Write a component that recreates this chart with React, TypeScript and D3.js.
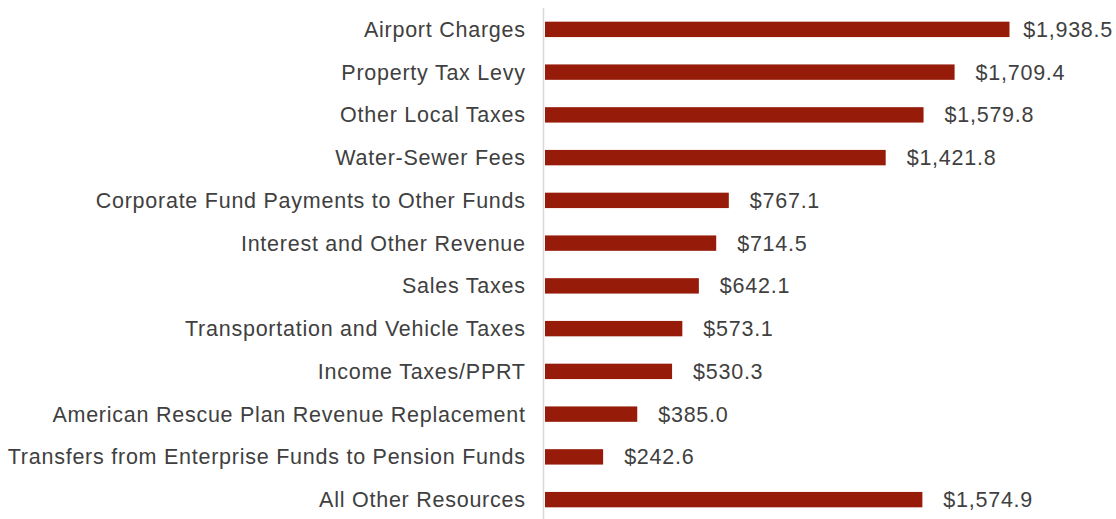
import React from "react";
import * as d3 from "d3";

const categories = [
  "Airport Charges",
  "Property Tax Levy",
  "Other Local Taxes",
  "Water-Sewer Fees",
  "Corporate Fund Payments to Other Funds",
  "Interest and Other Revenue",
  "Sales Taxes",
  "Transportation and Vehicle Taxes",
  "Income Taxes/PPRT",
  "American Rescue Plan Revenue Replacement",
  "Transfers from Enterprise Funds to Pension Funds",
  "All Other Resources",
];

const values = [1938.5, 1709.4, 1579.8, 1421.8, 767.1, 714.5, 642.1, 573.1, 530.3, 385.0, 242.6, 1574.9];

const W = 1116;
const H = 519;
const x0 = 545;
const FS = 21.5;
const LS = 0.75;
const FONT = "'Liberation Sans', Arial, sans-serif";

function measure(s: string): number {
  const c = document.createElement("canvas").getContext("2d");
  if (!c) return s.length * 11;
  c.font = `${FS}px ${FONT}`;
  return c.measureText(s).width + LS * s.length;
}

export default function App() {
  const x = d3.scaleLinear().domain([0, 1938.5]).range([x0, 1009.5]);
  const y = d3.scaleBand<string>().domain(categories).range([8, 521]).paddingInner(0.64).paddingOuter(0.32);
  const fmt = (v: number) => "$" + d3.format(",.1f")(v);
  return (
    <svg
      width={W}
      height={H}
      style={{ position: "absolute", left: 0, top: 0, background: "#fff" }}
      fontFamily={FONT}
    >
      <line x1={543.5} x2={543.5} y1={8} y2={H} stroke="#d9d9d9" strokeWidth={1.5} />
      {categories.map((c, i) => {
        const yy = y(c)!;
        const cy = yy + y.bandwidth() / 2;
        const lab = fmt(values[i]);
        const wLab = measure(lab);
        const lx = Math.min(x(values[i]) + 21, 1113 - wLab);
        return (
          <g key={c}>
            <rect x={x(0)} y={yy} width={x(values[i]) - x(0)} height={y.bandwidth()} fill="#961b08" />
            <text x={525 + LS} y={cy} dy="0.35em" textAnchor="end" fontSize={FS} letterSpacing={LS} fill="#404040">
              {c}
            </text>
            <text x={lx} y={cy} dy="0.35em" textAnchor="start" fontSize={FS} letterSpacing={LS} fill="#404040">
              {lab}
            </text>
          </g>
        );
      })}
    </svg>
  );
}
